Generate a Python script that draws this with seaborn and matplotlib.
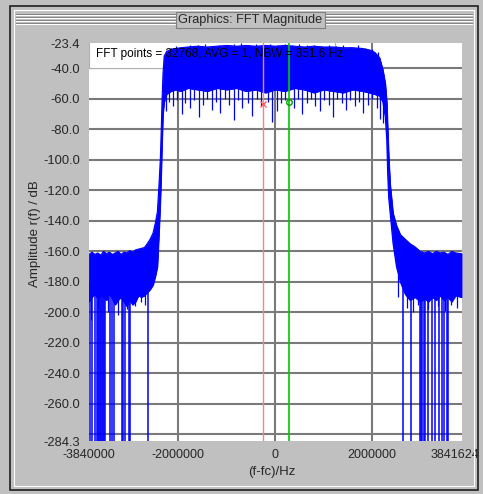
import numpy as np
import pandas as pd
import matplotlib
matplotlib.use("Agg")
import matplotlib.pyplot as plt
from matplotlib.patches import Rectangle
from matplotlib.lines import Line2D
from matplotlib.transforms import ScaledTranslation
import seaborn as sns

sns.set_style("white")
plt.rcParams['font.family'] = ['Liberation Sans', 'DejaVu Sans']

# ---------------------------------------------------------------------------
# data (Hz / dB)
# ---------------------------------------------------------------------------
freq_hz = [-3840000, -3780000, -3720000, -3660000, -3600000, -3540000, -3480000,
           -3420000, -3360000, -3300000, -3240000, -3180000, -3120000, -3060000,
           -3000000, -2940000, -2880000, -2820000, -2760000, -2700000, -2640000,
           -2580000, -2520000, -2470000, -2430000, -2400000, -2370000, -2350000,
           -2335000, -2315000, -2290000, -2240000, -2150000, -2050000, -1950000,
           -1800000, -1600000, -1400000, -1200000, -1000000, -800000, -600000,
           -400000, -200000, 0, 200000, 400000, 600000, 800000, 1000000, 1200000,
           1400000, 1600000, 1800000, 1950000, 2050000, 2150000, 2220000, 2270000,
           2300000, 2320000, 2340000, 2370000, 2430000, 2500000, 2580000, 2680000,
           2780000, 2880000, 2990000, 3080000, 3160000, 3240000, 3320000, 3400000,
           3480000, 3560000, 3640000, 3720000, 3841624]
upper_db = [-162, -160.5, -162, -161, -162.5, -160, -161.5, -160.5, -162, -161,
            -160, -162, -160.5, -161, -159.5, -160.5, -159, -158.5, -158, -157.5,
            -155, -152, -148, -141, -134, -118, -100, -80, -62, -44, -32, -29,
            -27.5, -27, -26.5, -26, -25.5, -26, -25.5, -25, -25.5, -25, -25.5,
            -25, -25.5, -25, -25.5, -26, -25.5, -26, -26, -26.5, -26.5, -27, -28,
            -29.5, -33, -41, -50, -62, -80, -97, -116, -135, -143, -149, -152,
            -155, -157, -160, -161, -160, -161.5, -160, -161, -160.5, -162, -160,
            -161, -161.5]
lower_db = [-193, -190, -188, -191, -189, -190, -192, -188, -191, -195, -192,
            -190, -193, -196, -192, -195, -193, -189, -190, -189, -187, -185,
            -182, -176, -170, -150, -128, -108, -90, -70, -62, -57, -55, -54,
            -55, -53, -54, -55, -53, -54, -53, -55, -54, -56, -54, -55, -53, -54,
            -56, -54, -55, -56, -54, -55, -56, -57, -58, -62, -72, -87, -110, -125,
            -135, -155, -170, -180, -188, -192, -190, -193, -191, -193, -190,
            -192, -189, -192, -190, -193, -189, -190]

# thin upward spikes along the top of the main band
peak_hz = [-2150000, -2050000, -1900000, -1750000, -1600000, -1450000, -1300000,
           -1150000, -1000000, -850000, -700000, -550000, -400000, -250000,
           -100000, 50000, 200000, 350000, 500000, 650000, 800000, 950000,
           1100000, 1250000, 1400000, 1550000, 1700000, 1850000, 2000000, 2120000]
peak_db = [-27, -25.5, -26, -24.5, -25, -24, -25.5, -24.5, -25, -23.8, -23.4,
           -24.5, -24, -25, -23.8, -24.5, -24, -25, -24.2, -25, -24.6, -25.5,
           -24.8, -25.3, -24.5, -25.8, -25, -26.5, -27.5, -29.5]

# downward spikes below the main band body
notch_hz = [-2250000, -2180000, -2100000, -2020000, -1930000, -1850000, -1760000,
            -1680000, -1580000, -1490000, -1400000, -1310000, -1220000, -1130000,
            -1040000, -950000, -860000, -770000, -680000, -560000, -470000,
            -380000, -290000, -150000, -60000, 30000, 120000, 210000, 380000,
            470000, 560000, 650000, 740000, 830000, 920000, 1010000, 1100000,
            1190000, 1280000, 1370000, 1460000, 1550000, 1640000, 1730000,
            1820000, 1910000, 2000000, 2090000, 2170000, 2230000]
notch_db = [-68, -62, -65, -61, -70, -63, -66, -61, -72, -64, -60, -67, -62, -69,
            -60, -64, -74, -61, -66, -63, -71, -60, -65, -62, -75, -68, -63, -61,
            -66, -60, -70, -63, -60, -65, -68, -61, -64, -72, -60, -63, -67, -61,
            -65, -62, -69, -64, -60, -66, -73, -76]

# shallow spikes below the noise floor
floor_notch_hz = [-3800000, -3650000, -3450000, -3250000, -3050000, -2900000,
                  -2760000, -2680000, 2540000, 2720000, 2850000, 2950000, 3150000,
                  3350000, 3500000, 3620000, 3750000]
floor_notch_db = [-205, -197, -200, -202, -198, -196, -193, -195, -190, -197, -200,
                  -195, -198, -196, -199, -195, -197]

# deep nulls going to the bottom of the scale
null_hz = [-3810000, -3780000, -3710000, -3680000, -3650000, -3630000, -3610000,
           -3590000, -3570000, -3550000, -3530000, -3510000, -3400000, -3370000,
           -3330000, -3160000, -3130000, -3090000, -3020000, -2990000, -2620000,
           2645000, 2800000, 2990000, 3010000, 3030000, 3060000, 3090000, 3160000,
           3230000, 3300000, 3370000, 3440000, 3480000, 3550000, 3570000]

cursor_red_hz, cursor_red_db = -247000, -63.5
cursor_green_hz, cursor_green_db = 289000, -62.0

x_ticks = [-3840000, -2000000, 0, 2000000, 3841624]
y_ticks = [-23.4, -40, -60, -80, -100, -120, -140, -160, -180, -200, -220,
           -240, -260, -284.3]
grid_x = [-2000000, 0, 2000000]
grid_y = [-40, -60, -80, -100, -120, -140, -160, -180, -200, -220, -240, -260, -280]

info_text = "FFT points = 32768, AVG = 1, NBW = 351.6 Hz"
window_title = "Graphics: FFT Magnitude"

spec = pd.DataFrame({'f': freq_hz, 'hi': upper_db, 'lo': lower_db})

# ---------------------------------------------------------------------------
W, H = 483, 494
BG = '#c0c0c0'
BLUE = '#0000ff'
fig = plt.figure(figsize=(W / 100, H / 100), dpi=100, facecolor=BG)

def fx(px):
    return px / W

def fy(py):
    return 1 - py / H

# window frame
fig.add_artist(Rectangle((fx(10), fy(490)), fx(468), (484) / H, fill=False,
                         edgecolor='#202020', lw=1.2, transform=fig.transFigure))
fig.add_artist(Rectangle((fx(14), fy(486)), fx(460), (476) / H, fill=False,
                         edgecolor='white', lw=0.8, transform=fig.transFigure))
# title bar stripes
for yy in [14, 17, 20, 23]:
    for x0, x1 in [(16, 175), (326, 472)]:
        fig.add_artist(Line2D([fx(x0), fx(x1)], [fy(yy), fy(yy)], color='#808080',
                              lw=0.8, transform=fig.transFigure))
        fig.add_artist(Line2D([fx(x0), fx(x1)], [fy(yy + 1), fy(yy + 1)], color='white',
                              lw=0.8, transform=fig.transFigure))
fig.add_artist(Rectangle((fx(176), fy(28)), fx(149), 16 / H, facecolor=BG,
                         edgecolor='#808080', lw=0.8, transform=fig.transFigure))
fig.text(fx(250.5), fy(20.5), window_title, ha='center', va='center', fontsize=9.2)

# plot area
ax = fig.add_axes([fx(89), fy(441), (461.5 - 89) / W, (441 - 43) / H])
ax.set_facecolor('white')

for g in grid_y:
    ax.axhline(g, color='#7a7a7a', lw=1.5, zorder=1)
for g in grid_x:
    ax.axvline(g, color='#7a7a7a', lw=1.5, zorder=1)

# info box behind the trace
ax.add_patch(Rectangle((0, 0.937), 0.66, 0.07, transform=ax.transAxes,
                       facecolor='white', edgecolor='#b0b0b0', lw=0.8, zorder=2))

ax.fill_between(spec['f'], spec['lo'], spec['hi'], color=BLUE, lw=0.6, zorder=3)
sns.lineplot(data=spec, x='f', y='hi', color=BLUE, lw=0.8, ax=ax, zorder=3)
sns.lineplot(data=spec, x='f', y='lo', color=BLUE, lw=0.8, ax=ax, zorder=3)

ax.vlines(peak_hz, -40, peak_db, color=BLUE, lw=0.9, zorder=3)
ax.vlines(notch_hz, notch_db, -45, color=BLUE, lw=0.9, zorder=3)
ax.vlines(floor_notch_hz, floor_notch_db, -175, color=BLUE, lw=0.9, zorder=3)
ax.vlines(null_hz, -284.3, -180, color=BLUE, lw=1.1, zorder=3)

# cursors
ax.axvline(cursor_red_hz, color='#ff8080', lw=1.0, zorder=4)
ax.axvline(cursor_green_hz, color='#00c800', lw=1.2, zorder=4)
ax.plot([cursor_red_hz], [cursor_red_db], marker='x', ms=4, mew=1,
        color='#ff6060', zorder=5)
ax.plot([cursor_green_hz], [cursor_green_db], marker='o', ms=4, mew=1,
        mfc='none', mec='#00a000', zorder=5)

ax.text(0.018, 0.972, info_text, transform=ax.transAxes, ha='left', va='center',
        fontsize=8.5, color='black', zorder=6)

ax.set_xlim(-3840000, 3841624)
ax.set_ylim(-284.3, -23.4)
ax.set_xticks(x_ticks)
ax.set_xticklabels([str(v) for v in x_ticks])
ax.set_yticks(y_ticks)
ax.set_yticklabels([f"{v:.1f}" for v in y_ticks])
ax.tick_params(axis='both', direction='out', length=5, width=1, color='black',
               labelsize=9.3, pad=1.5)
ax.tick_params(axis='x', length=4, pad=2, labelsize=9)
# keep the last x label inside the window, as in the screenshot
last = ax.get_xticklabels()[-1]
last.set_transform(last.get_transform() + ScaledTranslation(-5 / 72, 0, fig.dpi_scale_trans))
for s in ax.spines.values():
    s.set_visible(False)

ax.set_xlabel("(f-fc)/Hz", fontsize=9.5)
ax.xaxis.set_label_coords(0.49, -0.062)
ax.set_ylabel("Amplitude r(f) / dB", fontsize=9.5)
ax.yaxis.set_label_coords(-0.128, 0.52)

fig.savefig("out.png", dpi=100, facecolor=BG)
